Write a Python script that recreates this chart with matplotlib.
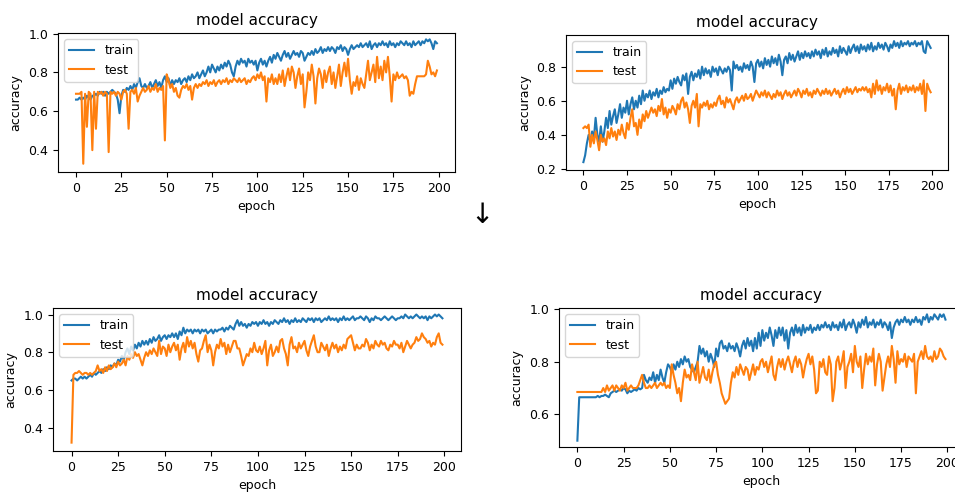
import numpy as np
import matplotlib
matplotlib.use("Agg")
import matplotlib.pyplot as plt

epochs = np.arange(200)

# run 1 (top left)
run1_train = [
    0.66, 0.66, 0.67, 0.66, 0.67, 0.66, 0.68, 0.67, 0.66, 0.68,
    0.68, 0.69, 0.68, 0.70, 0.69, 0.70, 0.68, 0.70, 0.69, 0.70,
    0.71, 0.70, 0.69, 0.66, 0.59, 0.68, 0.71, 0.70, 0.72, 0.71,
    0.73, 0.71, 0.74, 0.72, 0.75, 0.77, 0.73, 0.72, 0.74, 0.72,
    0.73, 0.75, 0.72, 0.74, 0.76, 0.73, 0.75, 0.72, 0.76, 0.78,
    0.75, 0.77, 0.73, 0.76, 0.74, 0.76, 0.75, 0.77, 0.74, 0.76,
    0.77, 0.75, 0.78, 0.76, 0.79, 0.77, 0.78, 0.80, 0.77, 0.79,
    0.81, 0.78, 0.80, 0.83, 0.80, 0.84, 0.82, 0.80, 0.83, 0.81,
    0.84, 0.82, 0.85, 0.83, 0.86, 0.84, 0.80, 0.78, 0.83, 0.86,
    0.84, 0.87, 0.85, 0.86, 0.83, 0.87, 0.85, 0.86, 0.84, 0.86,
    0.81, 0.85, 0.87, 0.84, 0.86, 0.83, 0.86, 0.88, 0.85, 0.89,
    0.87, 0.90, 0.88, 0.86, 0.89, 0.91, 0.88, 0.90, 0.87, 0.89,
    0.91, 0.89, 0.90, 0.88, 0.91, 0.90, 0.86, 0.88, 0.90, 0.89,
    0.91, 0.89, 0.92, 0.90, 0.91, 0.93, 0.90, 0.92, 0.91, 0.93,
    0.91, 0.93, 0.92, 0.90, 0.93, 0.92, 0.94, 0.91, 0.93, 0.92,
    0.89, 0.92, 0.94, 0.92, 0.93, 0.94, 0.93, 0.95, 0.93, 0.94,
    0.95, 0.93, 0.96, 0.92, 0.94, 0.95, 0.93, 0.95, 0.94, 0.96,
    0.94, 0.95, 0.93, 0.96, 0.94, 0.95, 0.93, 0.95, 0.94, 0.96,
    0.95, 0.94, 0.96, 0.94, 0.95, 0.93, 0.96, 0.94, 0.95, 0.96,
    0.94, 0.96, 0.95, 0.97, 0.96, 0.97, 0.95, 0.92, 0.96, 0.95,
]
run1_test = [
    0.69, 0.69, 0.69, 0.70, 0.33, 0.69, 0.52, 0.70, 0.69, 0.40,
    0.70, 0.51, 0.70, 0.69, 0.70, 0.68, 0.70, 0.69, 0.39, 0.70,
    0.69, 0.70, 0.68, 0.70, 0.69, 0.66, 0.70, 0.71, 0.69, 0.51,
    0.70, 0.71, 0.69, 0.72, 0.65, 0.68, 0.70, 0.72, 0.70, 0.71,
    0.73, 0.70, 0.72, 0.71, 0.74, 0.70, 0.72, 0.71, 0.73, 0.45,
    0.79, 0.76, 0.72, 0.74, 0.70, 0.72, 0.68, 0.67, 0.71, 0.73,
    0.72, 0.74, 0.71, 0.73, 0.66, 0.72, 0.74, 0.72, 0.74, 0.73,
    0.75, 0.74, 0.76, 0.73, 0.75, 0.74, 0.76, 0.73, 0.75, 0.76,
    0.74, 0.76, 0.75, 0.77, 0.74, 0.76, 0.75, 0.77, 0.76, 0.75,
    0.77, 0.75, 0.76, 0.77, 0.74, 0.76, 0.75, 0.77, 0.78, 0.76,
    0.79, 0.77, 0.80, 0.76, 0.78, 0.65, 0.77, 0.75, 0.79, 0.74,
    0.77, 0.74, 0.79, 0.75, 0.81, 0.73, 0.78, 0.82, 0.76, 0.83,
    0.80, 0.72, 0.78, 0.82, 0.74, 0.79, 0.62, 0.70, 0.80, 0.76,
    0.84, 0.78, 0.64, 0.77, 0.82, 0.79, 0.72, 0.81, 0.75, 0.80,
    0.83, 0.74, 0.80, 0.72, 0.78, 0.84, 0.73, 0.80, 0.85, 0.78,
    0.87, 0.76, 0.69, 0.75, 0.73, 0.78, 0.71, 0.77, 0.74, 0.72,
    0.79, 0.86, 0.76, 0.80, 0.84, 0.75, 0.88, 0.77, 0.83, 0.76,
    0.86, 0.80, 0.88, 0.78, 0.65, 0.79, 0.76, 0.80, 0.77, 0.78,
    0.79, 0.77, 0.78, 0.76, 0.68, 0.70, 0.69, 0.74, 0.78, 0.78,
    0.78, 0.78, 0.78, 0.79, 0.86, 0.83, 0.79, 0.80, 0.78, 0.81,
]

# run 2 (top right)
run2_train = [
    0.24, 0.28, 0.35, 0.40, 0.36, 0.42, 0.38, 0.50, 0.40, 0.36,
    0.45, 0.36, 0.42, 0.50, 0.44, 0.54, 0.46, 0.51, 0.55, 0.47,
    0.52, 0.58, 0.50, 0.56, 0.53, 0.60, 0.52, 0.58, 0.62, 0.55,
    0.60, 0.56, 0.63, 0.58, 0.66, 0.60, 0.64, 0.62, 0.66, 0.61,
    0.65, 0.63, 0.67, 0.62, 0.66, 0.64, 0.68, 0.65, 0.67, 0.66,
    0.72, 0.67, 0.73, 0.70, 0.74, 0.71, 0.69, 0.75, 0.72, 0.76,
    0.64, 0.74, 0.77, 0.72, 0.76, 0.74, 0.78, 0.73, 0.80, 0.75,
    0.79, 0.76, 0.78, 0.74, 0.80, 0.77, 0.79, 0.75, 0.80, 0.78,
    0.76, 0.79, 0.77, 0.80, 0.78, 0.66, 0.83, 0.79, 0.81, 0.78,
    0.80, 0.77, 0.82, 0.79, 0.81, 0.78, 0.83, 0.80, 0.71, 0.82,
    0.84, 0.80, 0.83, 0.79, 0.85, 0.81, 0.84, 0.80, 0.86, 0.82,
    0.85, 0.81, 0.87, 0.83, 0.75, 0.84, 0.86, 0.82, 0.88, 0.84,
    0.87, 0.83, 0.86, 0.89, 0.84, 0.88, 0.85, 0.89, 0.86, 0.88,
    0.85, 0.89, 0.86, 0.90, 0.87, 0.89, 0.85, 0.90, 0.87, 0.91,
    0.86, 0.89, 0.87, 0.91, 0.88, 0.90, 0.86, 0.92, 0.88, 0.91,
    0.89, 0.87, 0.92, 0.88, 0.91, 0.93, 0.89, 0.92, 0.88, 0.93,
    0.90, 0.92, 0.89, 0.93, 0.90, 0.94, 0.89, 0.92, 0.90, 0.94,
    0.91, 0.93, 0.90, 0.94, 0.92, 0.89, 0.93, 0.91, 0.95, 0.92,
    0.94, 0.91, 0.95, 0.92, 0.94, 0.93, 0.95, 0.92, 0.94, 0.93,
    0.95, 0.92, 0.94, 0.93, 0.95, 0.89, 0.88, 0.95, 0.93, 0.91,
]
run2_test = [
    0.44, 0.45, 0.44, 0.46, 0.33, 0.40, 0.35, 0.42, 0.37, 0.31,
    0.40, 0.36, 0.38, 0.34, 0.42, 0.38, 0.44, 0.39, 0.42, 0.37,
    0.43, 0.40, 0.46, 0.41, 0.38, 0.47, 0.43, 0.50, 0.55, 0.45,
    0.47, 0.40, 0.49, 0.44, 0.52, 0.48, 0.54, 0.50, 0.53, 0.56,
    0.53, 0.55, 0.51, 0.57, 0.54, 0.61, 0.52, 0.56, 0.50, 0.55,
    0.53, 0.57, 0.55, 0.52, 0.58, 0.55, 0.60, 0.62, 0.56, 0.59,
    0.55, 0.47, 0.57, 0.60, 0.56, 0.64, 0.45, 0.58, 0.56, 0.59,
    0.57, 0.60, 0.55, 0.58, 0.56, 0.59, 0.57, 0.61, 0.63, 0.58,
    0.60, 0.56, 0.62, 0.59, 0.61, 0.58, 0.55, 0.60, 0.62, 0.59,
    0.61, 0.63, 0.60, 0.64, 0.61, 0.62, 0.64, 0.60, 0.63, 0.66,
    0.64, 0.62, 0.65, 0.63, 0.66, 0.62, 0.65, 0.63, 0.61, 0.64,
    0.62, 0.66, 0.63, 0.65, 0.61, 0.64, 0.66, 0.63, 0.65, 0.62,
    0.64, 0.66, 0.63, 0.67, 0.65, 0.62, 0.66, 0.64, 0.67, 0.63,
    0.65, 0.62, 0.66, 0.64, 0.67, 0.65, 0.63, 0.66, 0.64, 0.67,
    0.64, 0.66, 0.63, 0.65, 0.67, 0.64, 0.66, 0.62, 0.65, 0.67,
    0.64, 0.68, 0.65, 0.67, 0.64, 0.66, 0.68, 0.65, 0.67, 0.66,
    0.68, 0.66, 0.68, 0.65, 0.67, 0.62, 0.70, 0.64, 0.72, 0.66,
    0.69, 0.64, 0.68, 0.66, 0.70, 0.65, 0.69, 0.63, 0.67, 0.55,
    0.66, 0.70, 0.64, 0.68, 0.66, 0.69, 0.65, 0.68, 0.66, 0.69,
    0.65, 0.68, 0.66, 0.70, 0.64, 0.72, 0.54, 0.70, 0.67, 0.65,
]

# run 3 (bottom left)
run3_train = [
    0.65, 0.66, 0.66, 0.65, 0.66, 0.67, 0.66, 0.67, 0.66, 0.67,
    0.68, 0.67, 0.69, 0.68, 0.69, 0.70, 0.69, 0.71, 0.70, 0.72,
    0.71, 0.73, 0.72, 0.74, 0.73, 0.76, 0.75, 0.78, 0.76, 0.80,
    0.82, 0.79, 0.83, 0.81, 0.84, 0.82, 0.85, 0.83, 0.86, 0.84,
    0.86, 0.84, 0.87, 0.85, 0.88, 0.86, 0.87, 0.89, 0.86, 0.88,
    0.89, 0.87, 0.89, 0.88, 0.90, 0.88, 0.90, 0.87, 0.91, 0.89,
    0.93, 0.90, 0.92, 0.91, 0.92, 0.90, 0.92, 0.91, 0.92, 0.90,
    0.92, 0.91, 0.92, 0.90, 0.91, 0.92, 0.90, 0.92, 0.91, 0.92,
    0.92, 0.93, 0.91, 0.93, 0.92, 0.94, 0.93, 0.92, 0.95, 0.97,
    0.94, 0.96, 0.94, 0.95, 0.93, 0.95, 0.94, 0.96, 0.95, 0.96,
    0.94, 0.96, 0.95, 0.97, 0.95, 0.96, 0.94, 0.96, 0.95, 0.97,
    0.96, 0.95, 0.97, 0.96, 0.98, 0.96, 0.97, 0.95, 0.97, 0.96,
    0.98, 0.96, 0.97, 0.96, 0.98, 0.97, 0.96, 0.98, 0.97, 0.98,
    0.96, 0.98, 0.97, 0.98, 0.96, 0.97, 0.98, 0.97, 0.99, 0.97,
    0.98, 0.97, 0.98, 0.96, 0.98, 0.97, 0.99, 0.97, 0.98, 0.97,
    0.98, 0.99, 0.97, 0.98, 0.98, 0.99, 0.98, 0.97, 0.99, 0.98,
    0.96, 0.98, 0.97, 0.99, 0.98, 0.98, 0.97, 0.98, 0.99, 0.98,
    0.97, 0.98, 0.99, 0.98, 0.97, 0.98, 0.98, 0.99, 0.98, 1.00,
    0.99, 0.98, 0.99, 0.98, 0.99, 1.00, 0.99, 0.98, 0.99, 0.98,
    0.99, 0.97, 0.99, 0.98, 0.99, 1.00, 0.99, 1.00, 0.99, 0.98,
]
run3_test = [
    0.32, 0.68, 0.69, 0.69, 0.70, 0.69, 0.68, 0.69, 0.69, 0.68,
    0.69, 0.68, 0.69, 0.70, 0.73, 0.70, 0.71, 0.69, 0.72, 0.70,
    0.73, 0.71, 0.72, 0.74, 0.72, 0.75, 0.73, 0.74, 0.76, 0.73,
    0.78, 0.76, 0.79, 0.77, 0.80, 0.78, 0.79, 0.76, 0.73, 0.77,
    0.80, 0.78, 0.81, 0.79, 0.82, 0.80, 0.78, 0.86, 0.79, 0.83,
    0.82, 0.78, 0.84, 0.80, 0.83, 0.85, 0.81, 0.84, 0.76, 0.82,
    0.85, 0.80, 0.88, 0.83, 0.86, 0.82, 0.85, 0.79, 0.75, 0.81,
    0.82, 0.86, 0.89, 0.80, 0.84, 0.81, 0.73, 0.80, 0.84, 0.82,
    0.87, 0.83, 0.85, 0.79, 0.84, 0.80, 0.83, 0.86, 0.86, 0.82,
    0.82, 0.78, 0.73, 0.76, 0.79, 0.78, 0.82, 0.80, 0.85, 0.81,
    0.80, 0.83, 0.79, 0.82, 0.86, 0.73, 0.81, 0.84, 0.78, 0.80,
    0.83, 0.80, 0.86, 0.87, 0.82, 0.79, 0.73, 0.84, 0.88, 0.82,
    0.83, 0.80, 0.85, 0.82, 0.84, 0.86, 0.81, 0.78, 0.83, 0.86,
    0.89, 0.83, 0.80, 0.80, 0.85, 0.83, 0.81, 0.84, 0.78, 0.82,
    0.85, 0.82, 0.84, 0.80, 0.83, 0.81, 0.84, 0.82, 0.87, 0.88,
    0.89, 0.85, 0.81, 0.84, 0.82, 0.82, 0.84, 0.83, 0.87, 0.85,
    0.81, 0.84, 0.82, 0.86, 0.84, 0.83, 0.86, 0.84, 0.85, 0.82,
    0.81, 0.84, 0.83, 0.86, 0.84, 0.84, 0.82, 0.85, 0.80, 0.83,
    0.86, 0.84, 0.82, 0.84, 0.85, 0.88, 0.86, 0.87, 0.90, 0.88,
    0.87, 0.85, 0.86, 0.83, 0.85, 0.84, 0.88, 0.90, 0.85, 0.84,
]

# run 4 (bottom right)
run4_train = [
    0.50, 0.665, 0.665, 0.665, 0.665, 0.665, 0.665, 0.665, 0.665, 0.665,
    0.665, 0.67, 0.665, 0.67, 0.67, 0.675, 0.67, 0.665, 0.68, 0.685,
    0.69, 0.685, 0.69, 0.695, 0.69, 0.70, 0.695, 0.68, 0.69, 0.685,
    0.69, 0.695, 0.69, 0.70, 0.695, 0.70, 0.75, 0.73, 0.72, 0.74,
    0.73, 0.76, 0.72, 0.75, 0.73, 0.77, 0.74, 0.72, 0.76, 0.79,
    0.78, 0.76, 0.79, 0.77, 0.80, 0.78, 0.81, 0.79, 0.82, 0.80,
    0.81, 0.78, 0.77, 0.76, 0.78, 0.80, 0.86, 0.83, 0.85, 0.82,
    0.84, 0.80, 0.83, 0.81, 0.78, 0.85, 0.82, 0.87, 0.88, 0.85,
    0.86, 0.84, 0.87, 0.85, 0.86, 0.84, 0.87, 0.85, 0.82, 0.86,
    0.88, 0.85, 0.89, 0.86, 0.88, 0.84, 0.89, 0.85, 0.91, 0.86,
    0.92, 0.88, 0.91, 0.89, 0.93, 0.90, 0.86, 0.92, 0.89, 0.93,
    0.90, 0.93, 0.88, 0.92, 0.85, 0.91, 0.93, 0.90, 0.94, 0.91,
    0.93, 0.90, 0.94, 0.91, 0.93, 0.92, 0.94, 0.91, 0.93, 0.92,
    0.94, 0.92, 0.94, 0.93, 0.95, 0.93, 0.94, 0.92, 0.95, 0.93,
    0.94, 0.92, 0.95, 0.93, 0.96, 0.92, 0.94, 0.95, 0.93, 0.96,
    0.94, 0.91, 0.95, 0.93, 0.96, 0.94, 0.97, 0.93, 0.95, 0.94,
    0.96, 0.93, 0.95, 0.94, 0.96, 0.93, 0.95, 0.94, 0.92, 0.95,
    0.89, 0.93, 0.95, 0.96, 0.94, 0.96, 0.95, 0.97, 0.95, 0.96,
    0.94, 0.96, 0.95, 0.97, 0.95, 0.96, 0.94, 0.97, 0.96, 0.98,
    0.95, 0.97, 0.96, 0.98, 0.97, 0.96, 0.98, 0.97, 0.98, 0.96,
]
run4_test = [
    0.685, 0.685, 0.685, 0.685, 0.685, 0.685, 0.685, 0.685, 0.685, 0.685,
    0.685, 0.685, 0.685, 0.685, 0.70, 0.685, 0.71, 0.69, 0.70, 0.71,
    0.69, 0.71, 0.70, 0.69, 0.71, 0.70, 0.72, 0.69, 0.70, 0.71,
    0.70, 0.70, 0.70, 0.71, 0.73, 0.75, 0.72, 0.70, 0.70, 0.71,
    0.70, 0.71, 0.72, 0.70, 0.71, 0.72, 0.71, 0.72, 0.70, 0.71,
    0.70, 0.79, 0.75, 0.72, 0.68, 0.70, 0.65, 0.72, 0.77, 0.74,
    0.75, 0.73, 0.79, 0.76, 0.73, 0.80, 0.72, 0.75, 0.78, 0.74,
    0.73, 0.77, 0.72, 0.76, 0.79, 0.80, 0.75, 0.72, 0.68, 0.66,
    0.64, 0.65, 0.66, 0.72, 0.76, 0.74, 0.78, 0.75, 0.79, 0.77,
    0.75, 0.78, 0.77, 0.73, 0.76, 0.79, 0.75, 0.78, 0.77, 0.80,
    0.81, 0.78, 0.80, 0.76, 0.79, 0.82, 0.75, 0.73, 0.78, 0.81,
    0.78, 0.81, 0.77, 0.80, 0.82, 0.79, 0.76, 0.80, 0.82, 0.78,
    0.81, 0.79, 0.74, 0.78, 0.81, 0.83, 0.79, 0.82, 0.77, 0.68,
    0.69, 0.80, 0.78, 0.81, 0.76, 0.75, 0.82, 0.79, 0.65, 0.70,
    0.80, 0.82, 0.77, 0.80, 0.84, 0.70, 0.78, 0.80, 0.83, 0.76,
    0.86, 0.80, 0.78, 0.82, 0.70, 0.77, 0.83, 0.79, 0.82, 0.80,
    0.85, 0.71, 0.79, 0.83, 0.80, 0.69, 0.74, 0.79, 0.82, 0.78,
    0.86, 0.81, 0.72, 0.84, 0.79, 0.81, 0.80, 0.83, 0.78, 0.82,
    0.81, 0.80, 0.83, 0.68, 0.80, 0.82, 0.84, 0.81, 0.86, 0.82,
    0.81, 0.82, 0.80, 0.84, 0.81, 0.82, 0.85, 0.84, 0.82, 0.81,
]

fig = plt.figure(figsize=(9.55, 4.96), dpi=100)
fig.patch.set_facecolor("white")

# each history plot sits at its own spot, sizes differ a little
panels = [
    ([0.0607, 0.6532, 0.4157, 0.2802], run1_train, run1_test, (0.2875, 1.0025)),
    ([0.5927, 0.6573, 0.4000, 0.2722], run2_train, run2_test, (0.194, 0.986)),
    ([0.0555, 0.0907, 0.4272, 0.2883], run3_train, run3_test, (0.2755, 1.0345)),
    ([0.5853, 0.0988, 0.4240, 0.2802], run4_train, run4_test, (0.476, 1.004)),
]

for rect, train, test, ylim in panels:
    ax = fig.add_axes(rect)
    ax.plot(epochs, train, color="#1f77b4", lw=1.5)
    ax.plot(epochs, test, color="#ff7f0e", lw=1.5)
    ax.set_ylim(*ylim)
    ax.set_xticks([0, 25, 50, 75, 100, 125, 150, 175, 200])
    ax.set_title("model accuracy", fontsize=11)
    ax.set_xlabel("epoch", fontsize=9)
    ax.set_ylabel("accuracy", fontsize=9)
    ax.tick_params(labelsize=9)
    ax.legend(["train", "test"], loc="upper left", fontsize=9)

fig.text(0.5047, 0.566, "\u2193", fontsize=20, ha="center", va="center")

fig.savefig("out.png", dpi=100)
